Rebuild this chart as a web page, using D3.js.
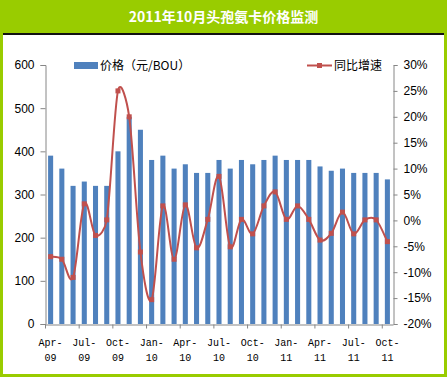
<!DOCTYPE html>
<html>
<head>
<meta charset="utf-8">
<script src="https://cdn.jsdelivr.net/npm/d3@7"></script>
<style>
body{margin:0;background:#99cc00;}
text{font-family:"Liberation Sans",Arial,sans-serif;}
</style>
</head>
<body>
<svg id="graph" width="447" height="377"></svg>
<script>
// Données
var mois = ["Apr-09","May-09","Jun-09","Jul-09","Aug-09","Sep-09","Oct-09","Nov-09","Dec-09",
	"Jan-10","Feb-10","Mar-10","Apr-10","May-10","Jun-10","Jul-10","Aug-10","Sep-10","Oct-10","Nov-10","Dec-10",
	"Jan-11","Feb-11","Mar-11","Apr-11","May-11","Jun-11","Jul-11","Aug-11","Sep-11","Oct-11"];
var prix = [390,360,320,330,320,320,400,480,450,
	380,390,360,370,350,350,380,360,380,370,380,390,
	380,380,380,365,355,360,350,350,350,335];
var croissance = [-7.0,-7.5,-11.0,3.2,-2.9,0.1,25.0,20.0,-6.1,
	-15.3,2.8,-7.5,3.0,-5.3,0.2,8.5,-5.1,0.2,-2.6,2.8,5.5,
	0.2,2.8,0.2,-3.8,-2.5,1.6,-2.6,0.1,0.1,-4.1];
var ticksPrix = [0,100,200,300,400,500,600];
var ticksPct = [-20,-15,-10,-5,0,5,10,15,20,25,30];
var titre = "2011年10月头孢氨卡价格监测";
var nomPrix = "价格（元/BOU）";
var nomCroissance = "同比增速";

var svg = d3.select("#graph");
var bleu = "#4f81bd", rouge = "#c0504d", gris = "#868686";

// fond blanc + titre
svg.append("rect").attr("x",3).attr("y",33).attr("width",441).attr("height",341).attr("fill","white");
svg.append("line").attr("x1",3).attr("x2",444).attr("y1",34).attr("y2",34).attr("stroke","#111").attr("stroke-width",2);
svg.append("text").attr("x",223.5).attr("y",22).attr("text-anchor","middle")
	.attr("font-size",14).attr("font-weight","bold").attr("fill","white")
	.style("font-family","'Noto Sans CJK SC',sans-serif").text(titre);

// échelles
var x = d3.scaleBand().domain(mois).range([45,393]).paddingInner(0.55).paddingOuter(0.275);
var xLin = d3.scaleLinear().domain([0,mois.length]).range([45,393]);
var yPrix = d3.scaleLinear().domain([0,600]).range([324,65]);
var yPct = d3.scaleLinear().domain([-20,30]).range([324,65]);

// barres
svg.append("g").selectAll("rect").data(prix).enter().append("rect")
	.attr("x",function(d,i){return x(mois[i]);})
	.attr("y",function(d){return yPrix(d);})
	.attr("width",x.bandwidth())
	.attr("height",function(d){return yPrix(0)-yPrix(d);})
	.attr("fill",bleu);

// axe gauche
var gy = svg.append("g").attr("transform","translate(45.5,0)")
	.call(d3.axisLeft(yPrix).tickValues(ticksPrix).tickSize(5).tickPadding(6));
gy.attr("font-size",12);
// axe droit
var gy2 = svg.append("g").attr("transform","translate(393.5,0)")
	.call(d3.axisRight(yPct).tickValues(ticksPct).tickSize(4).tickPadding(6).tickFormat(function(d){return (d<0?"-":"")+Math.abs(d)+"%";}));
gy2.attr("font-size",12);
// axe bas : graduations toutes les 3 catégories
var ticksX = d3.range(0,mois.length,3);
var gx = svg.append("g").attr("transform","translate(0,324.5)")
	.call(d3.axisBottom(xLin).tickValues(ticksX).tickSize(4).tickSizeOuter(0).tickFormat(""));
[gy,gy2,gx].forEach(function(g){
	g.select(".domain").attr("stroke",gris);
	g.selectAll(".tick line").attr("stroke",gris);
	g.selectAll(".tick text").attr("fill","#000");
});

// étiquettes du bas sur deux lignes
var lab = svg.append("g").selectAll("text").data(ticksX).enter().append("text")
	.attr("text-anchor","middle").attr("font-size",10).style("font-family","'Liberation Mono',monospace");
lab.append("tspan").attr("x",function(d){return x(mois[d])+x.bandwidth()/2;}).attr("y",346)
	.text(function(d){return mois[d].split("-")[0]+"-";});
lab.append("tspan").attr("x",function(d){return x(mois[d])+x.bandwidth()/2;}).attr("y",361)
	.text(function(d){return mois[d].split("-")[1];});

// courbe lissée façon Excel (Bézier, tangentes limitées à la moitié du segment)
function dist(a,b){ return Math.sqrt((a[0]-b[0])*(a[0]-b[0])+(a[1]-b[1])*(a[1]-b[1])); }
function cheminLisse(pts){
	var p = d3.path();
	p.moveTo(pts[0][0],pts[0][1]);
	for(var i=0;i<pts.length-1;i++){
		var p0 = pts[Math.max(i-1,0)], p1 = pts[i], p2 = pts[i+1], p3 = pts[Math.min(i+2,pts.length-1)];
		var d12 = dist(p1,p2), d02 = dist(p0,p2), d13 = dist(p1,p3);
		var f0 = 1/6, f1 = 1/6;
		if(d02/6 >= d12/2){ f0 = d12/d02/2; }
		if(d13/6 >= d12/2){ f1 = d12/d13/2; }
		p.bezierCurveTo(p1[0]+(p2[0]-p0[0])*f0, p1[1]+(p2[1]-p0[1])*f0,
			p2[0]-(p3[0]-p1[0])*f1, p2[1]-(p3[1]-p1[1])*f1,
			p2[0], p2[1]);
	}
	return p.toString();
}
var points = croissance.map(function(d,i){ return [x(mois[i])+x.bandwidth()/2, yPct(d)]; });
svg.append("path").attr("d",cheminLisse(points)).attr("fill","none").attr("stroke",rouge).attr("stroke-width",2);
svg.append("g").selectAll("rect").data(croissance).enter().append("rect")
	.attr("x",function(d,i){return x(mois[i])+x.bandwidth()/2-2.5;})
	.attr("y",function(d){return yPct(d)-2.5;})
	.attr("width",5).attr("height",5).attr("fill",rouge);

// légendes
svg.append("rect").attr("x",74).attr("y",62).attr("width",24).attr("height",7).attr("fill",bleu);
svg.append("text").attr("x",100).attr("y",70).attr("font-size",12)
	.style("font-family","'Noto Sans CJK SC',sans-serif").text(nomPrix);
svg.append("line").attr("x1",307).attr("x2",332).attr("y1",65.5).attr("y2",65.5).attr("stroke",rouge).attr("stroke-width",2);
svg.append("rect").attr("x",317).attr("y",63).attr("width",5).attr("height",5).attr("fill",rouge);
svg.append("text").attr("x",334).attr("y",70).attr("font-size",12)
	.style("font-family","'Noto Sans CJK SC',sans-serif").text(nomCroissance);
</script>
</body>
</html>
